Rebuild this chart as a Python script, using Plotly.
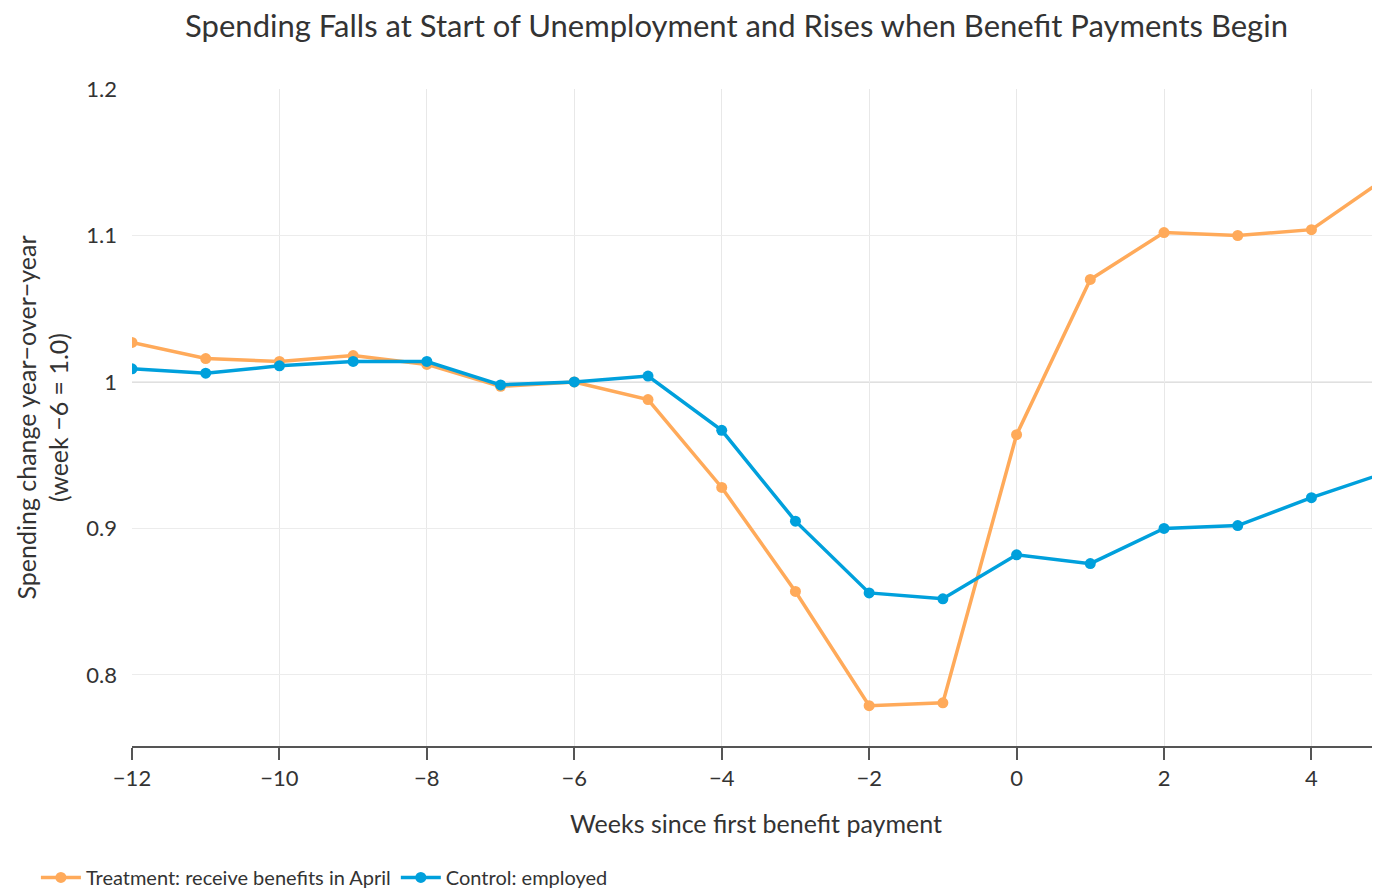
import plotly.graph_objects as go

# Weeks relative to first benefit payment
weeks = [-12, -11, -10, -9, -8, -7, -6, -5, -4, -3, -2, -1, 0, 1, 2, 3, 4, 5]

# Spending index, week -6 = 1.0
treatment = [1.027, 1.016, 1.014, 1.018, 1.012, 0.997, 1.000, 0.988, 0.928, 0.857,
             0.779, 0.781, 0.964, 1.070, 1.102, 1.100, 1.104, 1.139]
control = [1.009, 1.006, 1.011, 1.014, 1.014, 0.998, 1.000, 1.004, 0.967, 0.905,
           0.856, 0.852, 0.882, 0.876, 0.900, 0.902, 0.921, 0.938]

orange = '#FFAA5A'
blue = '#00A0DC'
font_family = 'Lato, "Open Sans", sans-serif'

fig = go.Figure()

fig.add_trace(go.Scatter(
    x=weeks, y=treatment,
    mode='lines+markers',
    name='Treatment: receive benefits in April',
    line=dict(color=orange, width=3.5),
    marker=dict(color=orange, size=11)
))

fig.add_trace(go.Scatter(
    x=weeks, y=control,
    mode='lines+markers',
    name='Control: employed',
    line=dict(color=blue, width=3.5),
    marker=dict(color=blue, size=11)
))

# slightly darker reference line at 1.0
fig.add_hline(y=1.0, line=dict(color='#d6d6d6', width=1.5), layer='below')

# page has an 8px body margin, so the figure is shifted 8px right/down
fig.update_layout(
    width=1372,
    height=890,
    margin=dict(l=124, r=0, t=81, b=152),
    paper_bgcolor='white',
    plot_bgcolor='white',
    font=dict(family=font_family, color='#333333'),
    title=dict(
        text='Spending Falls at Start of Unemployment and Rises when Benefit Payments Begin',
        x=0.531, xanchor='center',
        y=0.98, yanchor='middle',
        font=dict(size=31, color='#333333')
    ),
    xaxis=dict(
        range=[-12, 4.93],
        dtick=2,
        tick0=0,
        showgrid=True,
        gridcolor='#e8e8e8',
        gridwidth=1,
        zeroline=False,
        showline=True,
        linecolor='#555555',
        linewidth=2,
        ticks='outside',
        ticklen=12,
        tickwidth=2,
        tickcolor='#555555',
        tickfont=dict(size=22),
        title=dict(text='Weeks since first benefit payment', font=dict(size=25), standoff=25)
    ),
    yaxis=dict(
        range=[0.7515, 1.2],
        tickvals=[0.8, 0.9, 1.0, 1.1, 1.2],
        ticktext=['0.8', '0.9', '1', '1.1', '1.2'],
        showgrid=True,
        gridcolor='#ececec',
        gridwidth=1,
        zeroline=False,
        showline=False,
        ticks='',
        ticklabelstandoff=14,
        tickfont=dict(size=22),
        title=dict(text='Spending change year−over−year<br>(week −6 = 1.0)',
                   font=dict(size=25), standoff=10)
    ),
    legend=dict(
        orientation='h',
        x=-0.077, xanchor='left',
        y=-0.2, yanchor='middle',
        font=dict(size=20),
        itemwidth=40
    ),
    showlegend=True
)

fig.write_html("out.html")
